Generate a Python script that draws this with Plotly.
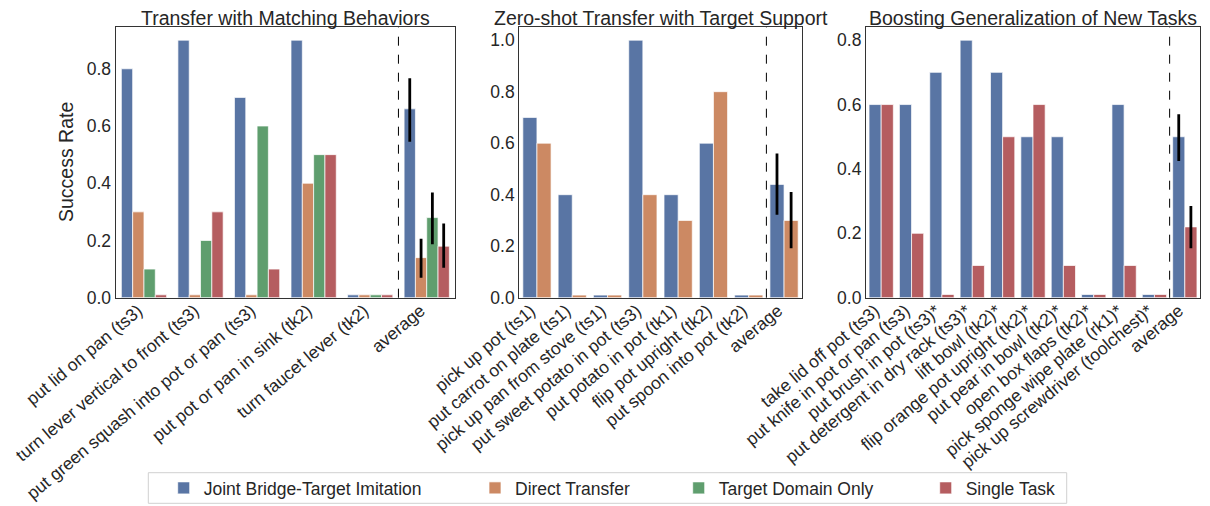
import plotly.graph_objects as go

FONT = "Liberation Sans, Arial, sans-serif"
TXT = "#262626"
OFF = 8                      # page body margin of the html page
W, H = 1210 - OFF, 506 - OFF

# ---------------- data ----------------
tasks1 = ["put lid on pan (ts3)", "turn lever vertical to front (ts3)",
          "put green squash into pot or pan (ts3)", "put pot or pan in sink (tk2)",
          "turn faucet lever (tk2)", "average"]
joint1 = [0.8, 0.9, 0.7, 0.9, 0.01, 0.66]
direct1 = [0.3, 0.01, 0.01, 0.4, 0.01, 0.14]
target1 = [0.1, 0.2, 0.6, 0.5, 0.01, 0.28]
single1 = [0.01, 0.3, 0.1, 0.5, 0.01, 0.18]
ci1_joint = (0.545, 0.767)
ci1_direct = (0.07, 0.206)
ci1_target = (0.187, 0.368)
ci1_single = (0.105, 0.259)

tasks2 = ["pick up pot (ts1)", "put carrot on plate (ts1)", "pick up pan from stove (ts1)",
          "put sweet potato in pot (ts3)", "put potato in pot (tk1)", "flip pot upright (tk2)",
          "put spoon into pot (tk2)", "average"]
joint2 = [0.7, 0.4, 0.01, 1.0, 0.4, 0.6, 0.01, 0.44]
direct2 = [0.6, 0.01, 0.01, 0.4, 0.3, 0.8, 0.01, 0.3]
ci2_joint = (0.322, 0.56)
ci2_direct = (0.192, 0.41)

tasks3 = ["take lid off pot (ts3)", "put knife in pot or pan (ts3)", "put brush in pot (ts3)*",
          "put detergent in dry rack (ts3)*", "lift bowl (tk2)*", "flip orange pot upright (tk2)*",
          "put pear in bowl (tk2)*", "open box flaps (tk2)*", "pick sponge wipe plate (rk1)*",
          "pick up screwdriver (toolchest)*", "average"]
joint3 = [0.6, 0.6, 0.7, 0.8, 0.7, 0.5, 0.5, 0.01, 0.6, 0.01, 0.5]
single3 = [0.6, 0.2, 0.01, 0.1, 0.5, 0.6, 0.1, 0.01, 0.1, 0.01, 0.22]
ci3_joint = (0.425, 0.57)
ci3_single = (0.154, 0.285)

series_names = ["Joint Bridge-Target Imitation", "Direct Transfer", "Target Domain Only", "Single Task"]
colors = ["#5975a4", "#cc8963", "#5f9e6e", "#b55d60"]


def px(p):
    return (p - OFF) / W


def py(p):
    return (H - (p - OFF)) / H


# ---------------- figure ----------------
fig = go.Figure()


def err(vals, ci):
    n = len(vals)
    plus = [None] * (n - 1) + [ci[1] - vals[-1]]
    minus = [None] * (n - 1) + [vals[-1] - ci[0]]
    return dict(type="data", array=plus, arrayminus=minus, symmetric=False,
                color="black", thickness=2.8, width=0, visible=True)


def add(cats, vals, ci, idx, xa, ya, show):
    legend_key = "legend" if idx == 0 else "legend%d" % (idx + 1)
    fig.add_trace(go.Bar(
        x=cats, y=vals, name=series_names[idx], marker_color=colors[idx],
        marker_line=dict(color="rgba(255,255,255,0.7)", width=1),
        error_y=err(vals, ci), xaxis=xa, yaxis=ya, showlegend=show,
        legend=legend_key,
    ))


add(tasks1, joint1, ci1_joint, 0, "x", "y", True)
add(tasks1, direct1, ci1_direct, 1, "x", "y", True)
add(tasks1, target1, ci1_target, 2, "x", "y", True)
add(tasks1, single1, ci1_single, 3, "x", "y", True)

add(tasks2, joint2, ci2_joint, 0, "x2", "y2", False)
add(tasks2, direct2, ci2_direct, 1, "x2", "y2", False)

add(tasks3, joint3, ci3_joint, 0, "x3", "y3", False)
add(tasks3, single3, ci3_single, 3, "x3", "y3", False)

xdoms = [(115.7, 455.0), (519.3, 801.7), (866.0, 1200.0)]
ydom = [py(297.7), py(27.3)]
yranges = [[0, 0.945], [0, 1.05], [0, 0.84]]
cats_all = [tasks1, tasks2, tasks3]
titles = ["Transfer with Matching Behaviors", "Zero-shot Transfer with Target Support",
          "Boosting Generalization of New Tasks"]

axis_common = dict(showline=True, mirror=True, linecolor="#333333", linewidth=1.25,
                   showgrid=False, zeroline=False, ticks="", automargin=False,
                   tickfont=dict(family=FONT, size=17.5, color=TXT))

layout = dict(
    width=W, height=H, margin=dict(l=0, r=0, t=0, b=0, autoexpand=False),
    paper_bgcolor="white", plot_bgcolor="white",
    barmode="group", bargap=0.2, bargroupgap=0,
    font=dict(family=FONT, color=TXT, size=17.5),
)

shapes = []
annotations = []
for i in range(3):
    sfx = "" if i == 0 else str(i + 1)
    x0, x1 = xdoms[i]
    layout["xaxis" + sfx] = dict(
        domain=[px(x0), px(x1)], anchor="y" + sfx, type="category",
        range=[-0.5, len(cats_all[i]) - 0.5], tickangle=-40,
        ticklabelstandoff=-5, ticklabelshift=-6, **axis_common)
    layout["yaxis" + sfx] = dict(
        domain=ydom, anchor="x" + sfx, range=yranges[i], dtick=0.2, tickformat=".1f",
        **axis_common)
    shapes.append(dict(type="line", xref="x" + sfx, yref="y%s domain" % sfx,
                       x0=len(cats_all[i]) - 1.5, x1=len(cats_all[i]) - 1.5, y0=0, y1=1,
                       line=dict(color="black", width=1, dash="dash")))
    annotations.append(dict(text=titles[i], xref="paper", yref="paper",
                            x=px((x0 + x1) / 2), y=py(17.5), xanchor="center", yanchor="middle",
                            showarrow=False, font=dict(family=FONT, size=19.5, color=TXT)))

annotations.append(dict(text="Success Rate", xref="paper", yref="paper", x=px(65.5), y=py(162.5),
                        textangle=-90, showarrow=False, xanchor="center", yanchor="middle",
                        font=dict(family=FONT, size=19.5, color=TXT)))

# legend frame
shapes.append(dict(type="rect", xref="paper", yref="paper", x0=px(148.3), x1=px(1066.7),
                   y0=py(503.3), y1=py(472.7),
                   line=dict(color="#d0d0d0", width=1), fillcolor="rgba(0,0,0,0)", layer="below"))

text_starts = [205.7, 517.0, 720.7, 967.7]
for i, ts in enumerate(text_starts):
    key = "legend" if i == 0 else "legend%d" % (i + 1)
    layout[key] = dict(x=px(ts - 42), xanchor="left", y=py(488), yanchor="middle",
                       orientation="h", bgcolor="rgba(0,0,0,0)", borderwidth=0,
                       font=dict(family=FONT, size=17.5, color=TXT))

layout["shapes"] = shapes
layout["annotations"] = annotations
fig.update_layout(**layout)

fig.write_html("out.html")
